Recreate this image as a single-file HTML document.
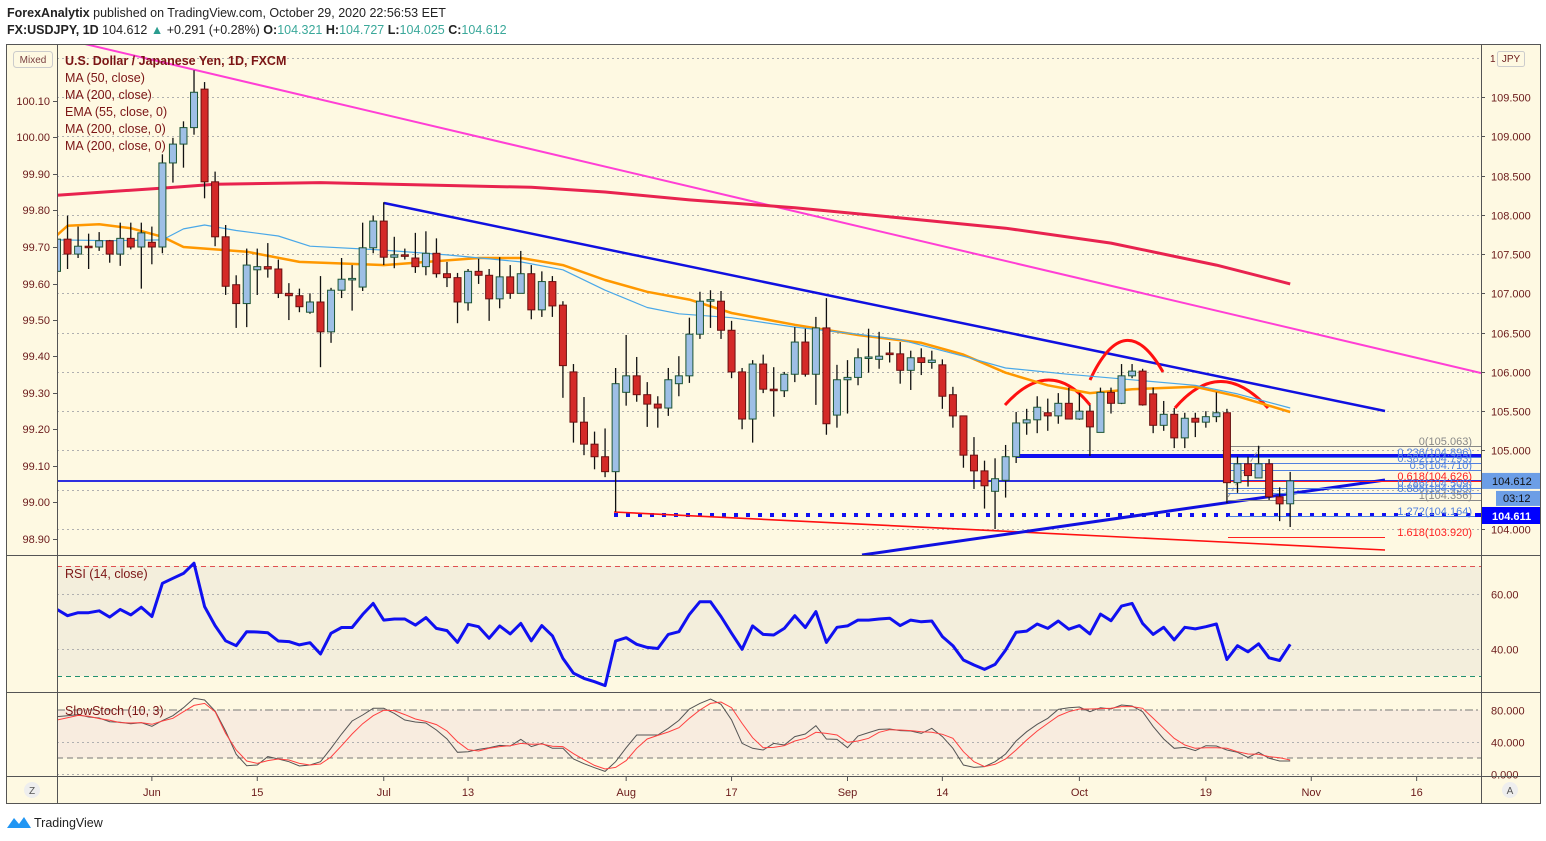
<!DOCTYPE html>
<html><head><meta charset="utf-8"><style>
html,body{margin:0;padding:0;background:#fff;width:1546px;height:841px;overflow:hidden}
svg{display:block;font-family:"Liberation Sans",sans-serif}
</style></head><body>
<svg id="c" width="1546" height="841" viewBox="0 0 1546 841" xmlns="http://www.w3.org/2000/svg">
<defs>
<clipPath id="mainClip"><rect x="57" y="45" width="1424" height="510"/></clipPath>
<clipPath id="rsiClip"><rect x="57" y="557" width="1424" height="135"/></clipPath>
<clipPath id="stClip"><rect x="57" y="694" width="1424" height="82"/></clipPath>
</defs>
<rect x="0" y="0" width="1546" height="841" fill="#ffffff"/>
<text x="7" y="17" font-size="12.5" fill="#222"><tspan font-weight="bold">ForexAnalytix</tspan> published on TradingView.com, October 29, 2020 22:56:53 EET</text>
<text x="7" y="34" font-size="12.5" fill="#222"><tspan font-weight="bold">FX:USDJPY, 1D</tspan> 104.612 <tspan fill="#2a9d8f">▲</tspan> +0.291 (+0.28%) <tspan font-weight="bold">O:</tspan><tspan fill="#3aa89a">104.321</tspan> <tspan font-weight="bold">H:</tspan><tspan fill="#3aa89a">104.727</tspan> <tspan font-weight="bold">L:</tspan><tspan fill="#3aa89a">104.025</tspan> <tspan font-weight="bold">C:</tspan><tspan fill="#3aa89a">104.612</tspan></text>
<rect x="6.5" y="44.5" width="1534" height="759" fill="#fef9e2" stroke="#555"/>
<rect x="57" y="557" width="1424" height="135" fill="#fef9e2"/>
<rect x="57" y="566" width="1424" height="110" fill="#f3eedc"/>
<rect x="57" y="710" width="1424" height="48" fill="#f8ecdf"/>
<g id="grid"></g>
<g id="main" clip-path="url(#mainClip)"></g>
<g id="rsi" clip-path="url(#rsiClip)"></g>
<g id="st" clip-path="url(#stClip)"></g>
<g id="axes"></g>
<g stroke="#555" stroke-width="1">
<line x1="57.5" y1="44" x2="57.5" y2="803"/><line x1="1481.5" y1="44" x2="1481.5" y2="803"/>
<line x1="6" y1="555.5" x2="1540" y2="555.5"/><line x1="6" y1="692.5" x2="1540" y2="692.5"/><line x1="6" y1="776.5" x2="1540" y2="776.5"/>
</g>
<rect x="13.5" y="51.5" width="39" height="16" rx="3" fill="#fef9e2" stroke="#ccc"/>
<text x="33" y="63" font-size="10" fill="#7a4040" text-anchor="middle">Mixed</text>
<rect x="1497.5" y="51.5" width="27" height="15" rx="2" fill="#fef9e2" stroke="#ccc"/>
<text x="1511" y="62" font-size="10" fill="#6b1a1a" text-anchor="middle">JPY</text>
<text x="1490" y="62" font-size="10" fill="#6b1a1a">1</text>
<g font-size="12.5" fill="#7b1515">
<text x="65" y="65" font-weight="bold">U.S. Dollar / Japanese Yen, 1D, FXCM</text>
<text x="65" y="82">MA (50, close)</text><text x="65" y="99">MA (200, close)</text>
<text x="65" y="116">EMA (55, close, 0)</text><text x="65" y="133">MA (200, close, 0)</text>
<text x="65" y="150">MA (200, close, 0)</text>
</g>
<text x="65" y="578" font-size="12.5" fill="#7b1515">RSI (14, close)</text>
<text x="65" y="715" font-size="12.5" fill="#7b1515">SlowStoch (10, 3)</text>
<circle cx="32" cy="790" r="8" fill="#eee"/><text x="32" y="794" font-size="10" fill="#555" text-anchor="middle">Z</text>
<circle cx="1510" cy="790" r="8" fill="#eee"/><text x="1510" y="794" font-size="10" fill="#555" text-anchor="middle">A</text>
<g>
<path d="M7 828 L14 818 L19 824 L24 817 L31 828 Z" fill="#2196f3"/>
<text x="34" y="827" font-size="12.5" fill="#222">TradingView</text>
</g>
</svg>
<script>
const opens=[107.28,107.69,107.50,107.60,107.59,107.67,107.50,107.70,107.59,107.65,107.59,108.66,108.90,109.11,109.60,108.42,107.72,107.11,106.87,107.30,107.34,107.31,107.00,106.97,106.76,106.89,106.51,107.04,107.18,107.08,107.58,107.92,107.46,107.49,107.45,107.34,107.51,107.25,107.20,106.88,107.28,107.23,106.93,107.21,107.00,107.25,106.79,107.15,106.85,106.00,105.36,105.08,104.92,104.73,105.74,105.95,105.71,105.59,105.54,105.85,105.95,106.48,106.90,106.90,106.53,106.00,105.40,106.10,105.78,105.76,105.97,106.38,105.97,106.56,105.45,105.90,105.93,106.18,106.16,106.24,106.23,106.02,106.18,106.12,106.09,105.71,105.44,104.94,104.74,104.48,104.62,104.92,105.35,105.39,105.48,105.44,105.60,105.40,105.50,105.23,105.74,105.60,105.95,106.01,105.72,105.32,105.46,105.16,105.41,105.36,105.43,105.48,104.59,104.83,104.65,104.83,104.41,104.321];
const highs=[108.09,107.99,107.85,107.76,107.78,107.68,107.90,107.90,107.90,107.85,108.77,108.98,109.19,109.84,109.69,108.55,107.87,107.23,107.57,107.57,107.64,107.43,107.13,107.06,107.00,107.22,107.07,107.45,107.36,107.90,107.99,108.16,107.72,107.57,107.77,107.79,107.70,107.40,107.26,107.31,107.44,107.31,107.46,107.36,107.54,107.36,107.28,107.22,106.90,106.10,105.68,105.24,105.28,106.05,106.47,106.19,105.87,105.69,106.05,106.20,106.69,107.02,107.04,107.03,106.65,106.05,106.15,106.22,106.06,106.00,106.57,106.55,106.70,106.94,106.09,106.15,106.30,106.55,106.51,106.38,106.38,106.27,106.30,106.27,106.16,105.81,105.44,105.17,104.87,104.90,105.07,105.49,105.53,105.69,105.66,105.73,105.80,105.73,105.58,105.80,105.80,106.10,106.10,106.04,105.80,105.63,105.54,105.48,105.48,105.50,105.74,105.53,104.92,104.92,105.06,104.89,104.53,104.727];
const lows=[107.26,107.31,107.45,107.31,107.54,107.39,107.35,107.56,107.06,107.37,107.51,108.41,108.60,109.02,108.21,107.60,106.98,106.56,106.57,106.98,107.20,106.94,106.66,106.76,106.74,106.06,106.37,106.94,106.78,107.03,107.51,107.36,107.32,107.43,107.26,107.23,107.20,107.08,106.62,106.78,107.12,106.65,106.81,106.93,107.00,106.67,106.70,106.70,105.67,105.10,104.94,104.76,104.66,104.22,105.57,105.62,105.30,105.29,105.44,105.69,105.86,106.42,106.56,106.42,105.92,105.27,105.10,105.73,105.43,105.68,105.87,105.94,105.58,105.20,105.29,105.47,105.83,105.99,106.04,106.12,105.85,105.77,105.96,106.04,105.53,105.29,104.78,104.51,104.26,104.00,104.40,104.84,105.20,105.22,105.25,105.34,105.40,105.39,104.93,105.23,105.47,105.59,105.92,105.57,105.22,105.25,105.03,105.03,105.17,105.29,105.36,104.33,104.46,104.54,104.65,104.37,104.10,104.025];
const closes=[107.69,107.50,107.60,107.59,107.67,107.50,107.70,107.59,107.77,107.59,108.66,108.90,109.11,109.56,108.42,107.72,107.09,106.87,107.36,107.34,107.31,107.00,106.97,106.83,106.89,106.51,107.04,107.18,107.19,107.58,107.92,107.46,107.49,107.48,107.34,107.51,107.25,107.20,106.89,107.28,107.23,106.93,107.21,107.00,107.25,106.79,107.15,106.84,106.08,105.36,105.08,104.92,104.73,105.85,105.95,105.71,105.59,105.54,105.90,105.95,106.48,106.90,106.92,106.53,106.00,105.40,106.10,105.78,105.76,105.97,106.38,105.97,106.56,105.34,105.90,105.93,106.18,106.19,106.20,106.22,106.02,106.18,106.12,106.15,105.69,105.44,104.94,104.74,104.55,104.64,104.92,105.35,105.39,105.55,105.44,105.60,105.40,105.50,105.30,105.74,105.60,105.95,106.01,105.58,105.32,105.46,105.16,105.41,105.36,105.43,105.48,104.59,104.83,104.68,104.83,104.41,104.32,104.612];
const ma200Idx=[0,10,15,25,35,45,52,60,70,80,90,100,110,117];
const ma200Val=[108.25,108.34,108.39,108.41,108.38,108.35,108.29,108.19,108.09,107.96,107.83,107.64,107.36,107.12];
const emaIdx=[0,1,4,7,10,12,18,23,31,40,44,48,52,56,60,64,70,76,82,86,90,94,98,102,108,112,117];
const emaVal=[107.74,107.86,107.88,107.83,107.72,107.59,107.53,107.40,107.36,107.45,107.45,107.36,107.17,107.02,106.92,106.75,106.60,106.47,106.37,106.22,105.99,105.83,105.73,105.78,105.81,105.69,105.49];
const ma50Idx=[0,5,10,12,14,17,21,24,31,37,44,48,52,56,59,64,70,76,80,86,90,96,102,108,112,117];
const ma50Val=[107.68,107.67,107.68,107.82,107.87,107.80,107.73,107.60,107.55,107.49,107.40,107.30,107.04,106.82,106.74,106.69,106.57,106.48,106.41,106.20,106.05,105.97,105.90,105.83,105.72,105.54];
const rsiVals=[54.4,52.1,53.2,53.2,53.9,51.6,54.4,52.4,55.2,51.8,63.9,65.7,67.5,71.2,55.4,48.5,43.0,41.2,46.3,46.2,45.9,42.9,42.7,41.5,42.3,38.2,45.7,47.8,47.8,52.6,56.6,50.5,50.9,50.9,48.7,51.4,47.5,46.7,42.4,49.0,48.1,43.9,48.4,45.5,49.3,43.0,48.5,44.8,36.6,31.2,29.3,28.1,26.7,42.9,44.1,41.7,40.6,40.2,45.3,46.3,52.6,57.2,57.2,51.8,45.7,39.9,48.4,45.3,45.1,47.5,52.1,47.8,53.6,42.4,47.9,48.4,50.5,50.5,50.9,51.2,48.5,50.5,49.9,50.2,44.5,41.2,36.0,34.2,32.6,34.4,39.6,46.1,46.5,49.1,47.5,50.2,47.2,48.5,45.5,52.7,50.3,55.6,56.6,49.3,45.3,47.9,43.3,47.9,47.3,48.1,49.1,36.2,41.2,39.0,41.9,36.8,35.8,41.7];
const stochK=[71.7,72.9,74.2,71.3,70.0,65.4,64.6,62.9,64.2,59.6,66.7,72.9,82.9,94.6,92.5,78.8,53.8,24.6,10.4,11.3,21.7,18.8,15.4,10.0,11.3,15.4,32.1,50.0,66.3,73.8,82.1,82.1,75.8,67.5,65.0,63.8,55.0,43.8,27.1,27.9,30.8,32.9,35.8,35.0,43.3,34.2,38.3,32.1,32.1,18.8,12.9,7.9,3.3,15.4,32.9,48.8,48.8,48.8,57.1,67.0,81.3,88.3,93.8,87.1,67.5,38.3,32.1,30.0,38.3,36.3,46.7,50.0,60.4,43.8,43.3,32.9,47.5,51.7,55.8,56.3,54.2,53.8,50.8,57.1,46.7,32.1,11.3,8.3,9.2,15.4,25.0,41.3,52.9,62.1,69.6,80.8,82.9,83.8,77.9,82.9,81.3,86.3,85.0,77.9,59.2,43.8,32.1,33.3,29.2,35.4,35.0,30.0,27.1,20.8,27.1,19.6,16.3,16.3];
const stochD=[67.5,70.4,73.3,72.1,69.2,67.1,64.2,63.8,64.2,62.1,66.3,69.6,77.9,85.8,88.3,77.9,50.8,30.0,16.3,13.3,16.7,18.8,17.5,13.3,11.3,12.5,21.3,35.4,50.0,62.9,72.9,79.6,79.2,74.2,68.8,65.8,61.7,53.8,40.4,30.4,28.8,32.1,34.2,35.4,38.3,37.1,37.5,34.6,34.2,25.4,17.9,10.8,6.3,8.3,16.7,32.1,43.8,48.3,52.5,57.9,69.6,80.0,88.3,90.0,82.9,63.3,45.4,32.9,33.3,35.4,41.3,44.6,52.1,50.8,48.8,39.6,41.3,44.6,52.1,55.4,55.0,54.2,52.9,52.1,49.6,44.6,27.9,15.4,9.2,12.1,18.8,30.0,42.5,53.8,63.3,72.5,77.9,81.3,81.3,81.7,82.1,84.2,84.2,82.1,69.6,57.1,44.6,36.3,32.1,32.9,32.9,32.1,27.9,25.0,24.6,21.7,20.4,17.5];
const priceTicks=[110.0,109.5,109.0,108.5,108.0,107.5,107.0,106.5,106.0,105.5,105.0,104.5,104.0];
const priceTickLabels=["","109.500","109.000","108.500","108.000","107.500","107.000","106.500","106.000","105.500","105.000","","104.000"];
const leftTicks=[100.10,100.00,99.90,99.80,99.70,99.60,99.50,99.40,99.30,99.20,99.10,99.00,98.90];
const rsiTicks=[60,40];
const stochTicks=[80,40,0];
const timeIdx=[9,19,31,39,54,64,75,84,97,109,119,129];
const timeLabels=["Jun","15","Jul","13","Aug","17","Sep","14","Oct","19","Nov","16"];

const NS="http://www.w3.org/2000/svg";
const X=i=>57+10.54*i;
const YP=p=>529-(p-104)*78.55;
const YL=v=>101+(100.10-v)*365;
const YR=v=>649-(v-40)*2.75;
const YS=v=>774-v*0.8;
function mk(tag,attrs,parent,txt){const e=document.createElementNS(NS,tag);for(const k in attrs)e.setAttribute(k,attrs[k]);if(txt!==undefined)e.textContent=txt;parent.appendChild(e);return e;}
const G=id=>document.getElementById(id);
const grid=G('grid'),main=G('main'),rsi=G('rsi'),st=G('st'),axes=G('axes');

priceTicks.forEach((p,k)=>{
  const y=Math.round(YP(p))+0.5;
  const gl=mk('line',{x1:57,x2:1481,y1:y,y2:y,stroke:'#b0b0b0','stroke-dasharray':'2,3'},grid);
  
  
  if(priceTickLabels[k]){
    const t=mk('text',{x:1491,y:y+4,'font-size':11,fill:'#6b1a1a'},axes,priceTickLabels[k]);
    
    
    mk('line',{x1:1481,x2:1485,y1:y,y2:y,stroke:'#555'},axes);
  }
});
leftTicks.forEach(v=>{
  const y=Math.round(YL(v));
  const t=mk('text',{x:50,y:y+4,'font-size':11,fill:'#6b1a1a','text-anchor':'end'},axes,v.toFixed(2));
  
  
  mk('line',{x1:53,x2:57,y1:y+0.5,y2:y+0.5,stroke:'#555'},axes);
});
rsiTicks.forEach(v=>{
  const y=Math.round(YR(v))+0.5;
  mk('line',{x1:57,x2:1481,y1:y,y2:y,stroke:'#b0b0b0','stroke-dasharray':'2,3'},grid);
  const t=mk('text',{x:1491,y:y+4,'font-size':11,fill:'#6b1a1a'},axes,v.toFixed(2));
  
  
});
mk('line',{x1:57,x2:1481,y1:YR(70),y2:YR(70),stroke:'#e05050','stroke-dasharray':'5,4'},grid);
mk('line',{x1:57,x2:1481,y1:YR(30),y2:YR(30),stroke:'#209070','stroke-dasharray':'5,4'},grid);
stochTicks.forEach(v=>{
  const y=Math.round(YS(v))+0.5;
  if(v!==80) mk('line',{x1:57,x2:1481,y1:y,y2:y,stroke:'#b0b0b0','stroke-dasharray':'2,3'},grid);
  const t=mk('text',{x:1491,y:y+4,'font-size':11,fill:'#6b1a1a'},axes,v.toFixed(3));
  
  
});
mk('line',{x1:57,x2:1481,y1:YS(80),y2:YS(80),stroke:'#777','stroke-dasharray':'8,3,2,3'},grid);
mk('line',{x1:57,x2:1481,y1:YS(20),y2:YS(20),stroke:'#777','stroke-dasharray':'6,4'},grid);
timeIdx.forEach((i,k)=>{
  const x=X(i);
  mk('line',{x1:x,x2:x,y1:777,y2:781,stroke:'#555'},axes);
  const t=mk('text',{x:x,y:796,'font-size':11,fill:'#6b1a1a','text-anchor':'middle'},axes,timeLabels[k]);
  
  
});

// drawings (annotations)
const D=[
 ['line',{x1:85,y1:44,x2:1481,y2:373,stroke:'#ff3fd5','stroke-width':2},'resistance-trendline-magenta'],
 ['line',{x1:384,y1:203,x2:1385,y2:411,stroke:'#1010e0','stroke-width':2.5},'descending-trendline'],
 ['line',{x1:57,y1:481,x2:1481,y2:481,stroke:'#1010e0','stroke-width':1.8},'support-line'],
 ['line',{x1:1016,y1:456,x2:1481,y2:456,stroke:'#1010f0','stroke-width':4},'neckline'],
 ['line',{x1:614,y1:515,x2:1481,y2:515,stroke:'#1010f0','stroke-width':4,'stroke-dasharray':'4,8'},'dotted-support'],
 ['line',{x1:614,y1:512,x2:1385,y2:550,stroke:'#ff1010','stroke-width':1.6},'red-lower-trendline'],
 ['line',{x1:862,y1:555,x2:1385,y2:480,stroke:'#1010e0','stroke-width':3},'ascending-trendline'],
 ['path',{d:'M1005 405 Q1050 355 1090 405',fill:'none',stroke:'#ff1010','stroke-width':3},'left-shoulder-arc'],
 ['path',{d:'M1090 380 Q1125 305 1163 372',fill:'none',stroke:'#ff1010','stroke-width':3},'head-arc'],
 ['path',{d:'M1175 408 Q1220 355 1268 408',fill:'none',stroke:'#ff1010','stroke-width':3},'right-shoulder-arc'],
 ['line',{x1:1228,y1:497,x2:1260,y2:447,stroke:'#999','stroke-width':1,'stroke-dasharray':'4,3'},'fib-trend']
];
D.forEach(d=>{const e=mk(d[0],d[1],main);});
const fibs=[['0(105.063)',446,'#888'],['0.236(104.896)',457,'#5080e0'],['0.382(104.793)',463,'#5080e0'],['0.5(104.710)',470,'#5080e0'],['0.618(104.626)',481,'#ff2020'],['0.786(104.509)',488,'#5080e0'],['0.886(104.439)',493,'#5080e0'],['1(104.356)',500,'#888'],['1.272(104.164)',516,'#5080e0'],['1.618(103.920)',537,'#ff2020']];
fibs.forEach(f=>{
  mk('line',{x1:1228,x2:f[1]===537?1385:1481,y1:f[1]+0.5,y2:f[1]+0.5,stroke:f[2],'stroke-width':1},main);
  const t=mk('text',{x:1472,y:f[1]-1,'font-size':11,fill:f[2],'text-anchor':'end'},main,f[0]);
  
  
});

function poly(idx,vals,yf,attrs,parent,name){
  const pts=idx.map((i,k)=>X(i).toFixed(1)+','+yf(vals[k]).toFixed(1)).join(' ');
  const e=mk('polyline',Object.assign({points:pts,fill:'none'},attrs),parent);
  
  
}
poly(ma200Idx,ma200Val,YP,{stroke:'#e8234f','stroke-width':3,'stroke-linejoin':'round'},main,'ma200-line');
poly(emaIdx,emaVal,YP,{stroke:'#ff9800','stroke-width':2.5,'stroke-linejoin':'round'},main,'ema55-line');
poly(ma50Idx,ma50Val,YP,{stroke:'#4aa8e8','stroke-width':1.2,'stroke-linejoin':'round'},main,'ma50-line');

for(let i=0;i<opens.length;i++){
  const x=X(i),up=closes[i]>=opens[i];
  const w=mk('line',{x1:x,x2:x,y1:YP(highs[i]),y2:YP(lows[i]),stroke:'#111','stroke-width':1.3},main);
  
  
  const top=YP(Math.max(opens[i],closes[i])),bot=YP(Math.min(opens[i],closes[i]));
  const b=mk('rect',{x:x-3.5,y:top,width:7,height:Math.max(1.5,bot-top),fill:up?'#9ebfe6':'#d42a28',stroke:up?'#1d5535':'#6a1010','stroke-width':1},main);
  
  
}

const idxAll=rsiVals.map((v,i)=>i);
poly(idxAll,rsiVals,YR,{stroke:'#1010f0','stroke-width':3,'stroke-linejoin':'round'},rsi,'rsi-line');
poly(idxAll,stochK,YS,{stroke:'#555','stroke-width':1},st,'stoch-k-line');
poly(idxAll,stochD,YS,{stroke:'#ff4040','stroke-width':1},st,'stoch-d-line');

// price labels
const last=closes[closes.length-1];
const yl=YP(last);
const b1=mk('rect',{x:1482,y:yl-8,width:58,height:16,fill:'#6c9ee6'},axes);


mk('text',{x:1492,y:yl+4,'font-size':11,fill:'#111'},axes,last.toFixed(3));
mk('rect',{x:1496,y:yl+10,width:44,height:15,fill:'#6c9ee6'},axes);
mk('text',{x:1503,y:yl+21,'font-size':11,fill:'#111'},axes,'03:12');
const b2=mk('rect',{x:1482,y:507,width:58,height:17,fill:'#0000ff'},axes);


mk('text',{x:1492,y:520,'font-size':11,fill:'#fff','font-weight':'bold'},axes,'104.611');
mk('rect',{x:1475,y:513,width:6,height:4,fill:'#0000ff'},axes);
</script>
</body></html>
